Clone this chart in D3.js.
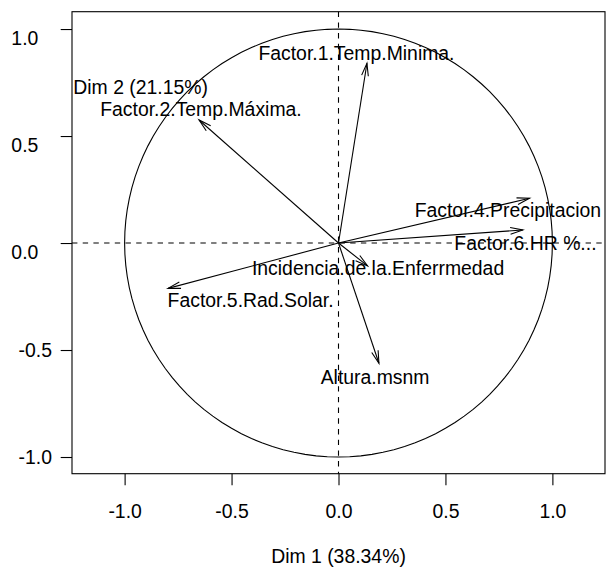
<!DOCTYPE html>
<html><head><meta charset="utf-8">
<script src="https://cdn.jsdelivr.net/npm/d3@7"></script>
<style>
html,body{margin:0;padding:0;background:#fff;}
svg text{font-family:"Liberation Sans",Arial,sans-serif;}
</style>
</head><body>
<svg id="chart" width="606" height="569"></svg>
<script>
// ---- data ----
const variables = ["Factor.1.Temp.Minima.","Factor.2.Temp.Máxima.","Factor.4.Precipitacion","Factor.6.HR %...","Incidencia.de.la.Enferrmedad","Factor.5.Rad.Solar.","Altura.msnm"];
const dim1 = [0.133,-0.652,0.893,0.862,0.136,-0.797,0.189];
const dim2 = [0.840,0.575,0.209,0.061,-0.107,-0.212,-0.562];
// label anchor (text centre / baseline) in data units, as placed by the label-avoidance
const labelDim1 = [0.084,-0.643,0.792,0.874,0.185,-0.411,0.171];
const labelDim2 = [0.855,0.593,0.123,-0.033,-0.150,-0.300,-0.660];
const ticks = [-1.0,-0.5,0.0,0.5,1.0];
const xTitle = "Dim 1 (38.34%)";
const yTitle = "Dim 2 (21.15%)";

const svg = d3.select("#chart");
const fs = 19.4;
const L = 72, R = 605, T = 11.7, B = 473.7;
const x = d3.scaleLinear().domain([-1.246,1.246]).range([L,R]);
const y = d3.scaleLinear().domain([-1.078,1.081]).range([B,T]);
const fmt = d => d.toFixed(1);

// dashed axes lines
svg.append("line").attr("x1",L).attr("x2",R).attr("y1",y(0)).attr("y2",y(0))
  .attr("stroke","#000").attr("stroke-width",1.1).attr("stroke-dasharray","5.4,5.3");
svg.append("line").attr("x1",x(0)).attr("x2",x(0)).attr("y1",T).attr("y2",B)
  .attr("stroke","#000").attr("stroke-width",1.1).attr("stroke-dasharray","5.4,5.3");

// unit circle
const circ = d3.range(0,361,3).map(a=>[Math.cos(a*Math.PI/180),Math.sin(a*Math.PI/180)]);
svg.append("path").attr("d",d3.line().x(d=>x(d[0])).y(d=>y(d[1]))(circ))
  .attr("fill","none").attr("stroke","#000").attr("stroke-width",1.1);

// arrows
const headLen = 13, headAng = 15*Math.PI/180;
variables.forEach((v,i)=>{
  const x0=x(0), y0=y(0), x1=x(dim1[i]), y1=y(dim2[i]);
  const ang = Math.atan2(y1-y0,x1-x0);
  const g = svg.append("g").attr("stroke","#000").attr("stroke-width",1.1).attr("fill","none");
  g.append("line").attr("x1",x0).attr("y1",y0).attr("x2",x1).attr("y2",y1);
  const p = [[x1-headLen*Math.cos(ang-headAng), y1-headLen*Math.sin(ang-headAng)],[x1,y1],
             [x1-headLen*Math.cos(ang+headAng), y1-headLen*Math.sin(ang+headAng)]];
  g.append("path").attr("d",d3.line()(p));
});

// labels
variables.forEach((v,i)=>{
  svg.append("text").attr("x",x(labelDim1[i])).attr("y",y(labelDim2[i]))
    .attr("text-anchor","middle").attr("font-size",fs).text(v);
});
svg.append("text").attr("x",L+1.3).attr("y",94).attr("font-size",fs).text(yTitle);

// box
svg.append("rect").attr("x",L).attr("y",T).attr("width",R-L).attr("height",B-T)
  .attr("fill","none").attr("stroke","#000").attr("stroke-width",1.1);

// axes
const xa = svg.append("g").attr("transform",`translate(0,${B})`)
  .call(d3.axisBottom(x).tickValues(ticks).tickFormat(fmt).tickSize(11.5).tickPadding(0));
xa.select(".domain").remove();
xa.selectAll("text").attr("font-size",fs).attr("font-family","Liberation Sans, Arial, sans-serif")
  .attr("dy",null).attr("y",44.8);
xa.selectAll("line").attr("stroke-width",1.1);

const ya = svg.append("g").attr("transform",`translate(${L},0)`)
  .call(d3.axisLeft(y).tickValues(ticks).tickFormat(fmt).tickSize(11.3));
ya.select(".domain").remove();
ya.selectAll("line").attr("stroke-width",1.1);
ya.selectAll("text").attr("font-size",fs).attr("font-family","Liberation Sans, Arial, sans-serif")
  .attr("dy","0.35em")
  .attr("x",d=> d<0 ? -20 : -33.7)
  .attr("y",d=> d<0 ? 0 : 8.5);

svg.append("text").attr("x",x(0)).attr("y",563).attr("text-anchor","middle")
  .attr("font-size",fs).text(xTitle);
</script>
</body></html>
